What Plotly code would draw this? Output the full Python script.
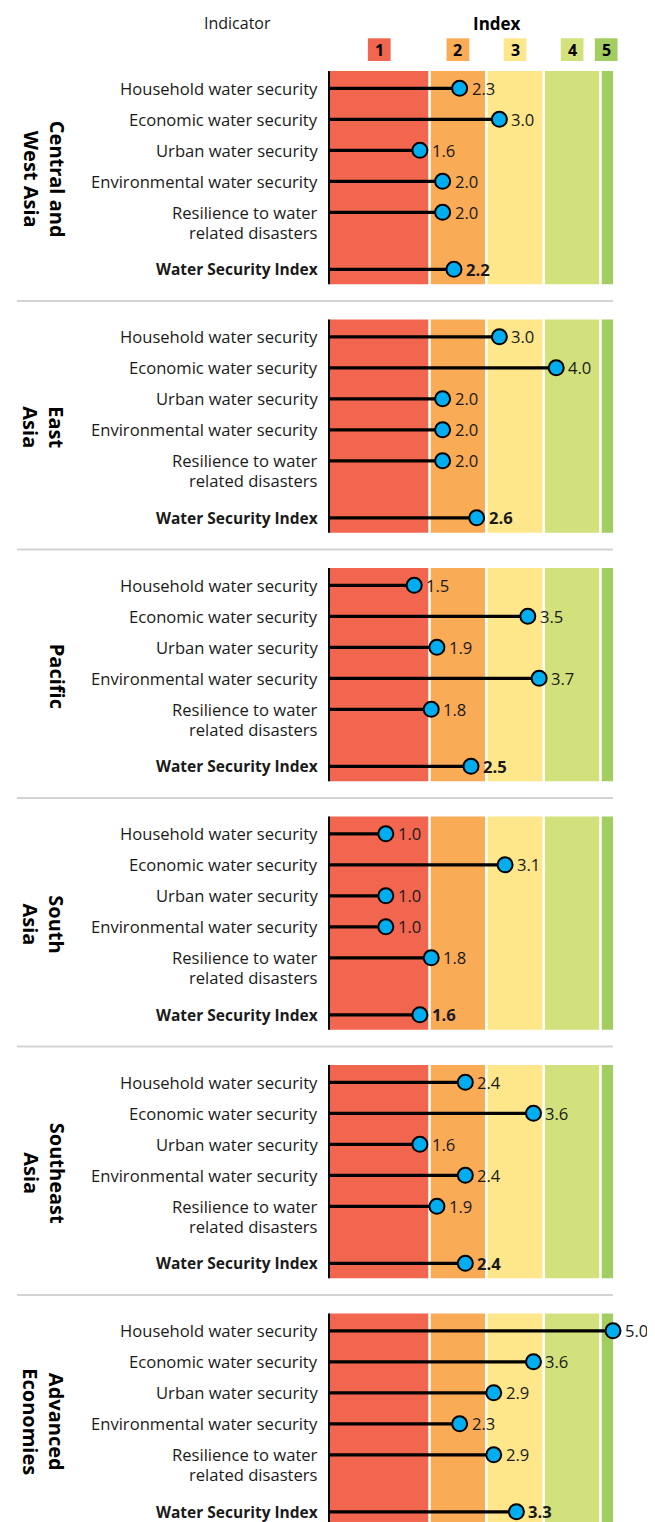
import plotly.graph_objects as go

# ---------------- data ----------------
regions = ["Central and<br>West Asia", "East<br>Asia", "Pacific",
           "South<br>Asia", "Southeast<br>Asia", "Advanced<br>Economies"]
indicators = ["Household water security", "Economic water security",
              "Urban water security", "Environmental water security",
              "Resilience to water<br>related disasters", "Water Security Index"]
values = [
    [2.3, 3.0, 1.6, 2.0, 2.0, 2.2],
    [3.0, 4.0, 2.0, 2.0, 2.0, 2.6],
    [1.5, 3.5, 1.9, 3.7, 1.8, 2.5],
    [1.0, 3.1, 1.0, 1.0, 1.8, 1.6],
    [2.4, 3.6, 1.6, 2.4, 1.9, 2.4],
    [5.0, 3.6, 2.9, 2.3, 2.9, 3.3],
]
index_levels = ["1", "2", "3", "4", "5"]
band_edges = [0, 1.77, 2.77, 3.78, 4.78, 5.0]
band_colors = ["#F26650", "#F9AB56", "#FEE68B", "#D2E17B", "#A2CD60"]

# ---------------- layout constants ----------------
PAGE_OFF = 8                 # browser body margin
W, H = 655 - PAGE_OFF, 1522 - PAGE_OFF
PX_X = 56.8                  # pixels per index unit
ROW_PX = 31                  # pixels per row unit
X0_PX = 329 - PAGE_OFF       # pixel of index 0
Y0_PX = 88.3 - PAGE_OFF      # pixel of first row


def ux(px):  # page pixel -> x data
    return (px - PAGE_OFF - X0_PX) / PX_X


def uy(py):  # page pixel -> y data
    return (py - PAGE_OFF - Y0_PX) / ROW_PX


row_pos = [0, 1, 2, 3, 4, 5.84]
panel_step = 8.016
gap = 0.045

xr = [-X0_PX / PX_X, (W - X0_PX) / PX_X]
yr = [(H - Y0_PX) / ROW_PX, -Y0_PX / ROW_PX]

FONT = "Open Sans"
TXT = "#1a1a1a"

fig = go.Figure()
shapes = []
annotations = []

band_top = -0.558
band_bot = 6.32

for p, (reg, vals) in enumerate(zip(regions, values)):
    off = p * panel_step
    # bands
    for b in range(5):
        x0 = band_edges[b] + (gap / 2 if b > 0 else 0)
        x1 = band_edges[b + 1] - (gap / 2 if b < 4 else 0)
        shapes.append(dict(type="rect", xref="x", yref="y", x0=x0, x1=x1,
                           y0=off + band_top, y1=off + band_bot,
                           fillcolor=band_colors[b], line=dict(width=0), layer="below"))
    # axis line
    shapes.append(dict(type="line", xref="x", yref="y", x0=0, x1=0,
                       y0=off + band_top, y1=off + band_bot,
                       line=dict(color="black", width=2)))
    # separator
    if p < len(regions) - 1:
        sy = off + uy(301)
        shapes.append(dict(type="line", xref="x", yref="y", x0=ux(17), x1=5.0,
                           y0=sy, y1=sy, line=dict(color="#D3D3D3", width=2)))
    # stems + markers
    sx, sy_ = [], []
    for r, v in enumerate(vals):
        y = off + row_pos[r]
        sx += [0, v, None]
        sy_ += [y, y, None]
    fig.add_trace(go.Scatter(x=sx, y=sy_, mode="lines",
                             line=dict(color="black", width=3.2), hoverinfo="skip",
                             showlegend=False))
    fig.add_trace(go.Scatter(x=vals, y=[off + rp for rp in row_pos], mode="markers",
                             marker=dict(size=15, color="#00AEEF",
                                         line=dict(color="black", width=2)),
                             showlegend=False))
    # labels and values
    for r, (lab, v) in enumerate(zip(indicators, vals)):
        y = off + row_pos[r]
        bold = (r == len(indicators) - 1)
        lines = lab.split("<br>")
        for li, ln in enumerate(lines):
            annotations.append(dict(x=0, y=y, xref="x", yref="y", text=ln,
                                    showarrow=False, xanchor="right", yanchor="middle",
                                    xshift=-9, yshift=-20 * li,
                                    font=dict(family=FONT, size=15.5 if bold else 16.6,
                                              color=TXT,
                                              weight="bold" if bold else "normal")))
        annotations.append(dict(x=v, y=y, xref="x", yref="y", text=f"{v:.1f}",
                                showarrow=False, xanchor="left", yanchor="middle",
                                xshift=10,
                                font=dict(family=FONT, size=16.6, color=TXT,
                                          weight="bold" if bold else "normal")))
    # region label (rotated)
    mid = off + (row_pos[0] + row_pos[-1]) / 2
    cx = ux(57) if "<br>" not in reg else ux(44)
    annotations.append(dict(x=cx, y=mid, xref="x", yref="y", text=reg,
                            showarrow=False, textangle=90, xanchor="center",
                            yanchor="middle",
                            font=dict(family=FONT, size=20, color="black",
                                      weight="bold")))

# header
hy = uy(23)
annotations.append(dict(x=ux(237), y=hy, xref="x", yref="y", text="Indicator",
                        showarrow=False, xanchor="center", yanchor="middle",
                        font=dict(family=FONT, size=16, color=TXT)))
annotations.append(dict(x=ux(496.7), y=hy, xref="x", yref="y", text="Index",
                        showarrow=False, xanchor="center", yanchor="middle",
                        font=dict(family=FONT, size=17, color="black", weight="bold")))
by0, by1 = uy(38.3), uy(61)
bw = 0.2
for b, lvl in enumerate(index_levels):
    cx = (band_edges[b] + band_edges[b + 1]) / 2
    if b == 4:
        cx = band_edges[b] + 0.1
    shapes.append(dict(type="rect", xref="x", yref="y", x0=cx - bw, x1=cx + bw,
                       y0=by0, y1=by1, fillcolor=band_colors[b], line=dict(width=0)))
    annotations.append(dict(x=cx, y=(by0 + by1) / 2, xref="x", yref="y", text=lvl,
                            showarrow=False, xanchor="center", yanchor="middle",
                            font=dict(family=FONT, size=16, color="black", weight="bold")))

fig.update_layout(
    width=W, height=H, margin=dict(l=0, r=0, t=0, b=0),
    paper_bgcolor="white", plot_bgcolor="white",
    xaxis=dict(range=xr, visible=False, fixedrange=True),
    yaxis=dict(range=yr, visible=False, fixedrange=True),
    shapes=shapes, annotations=annotations, showlegend=False,
)
fig.write_html("out.html")
